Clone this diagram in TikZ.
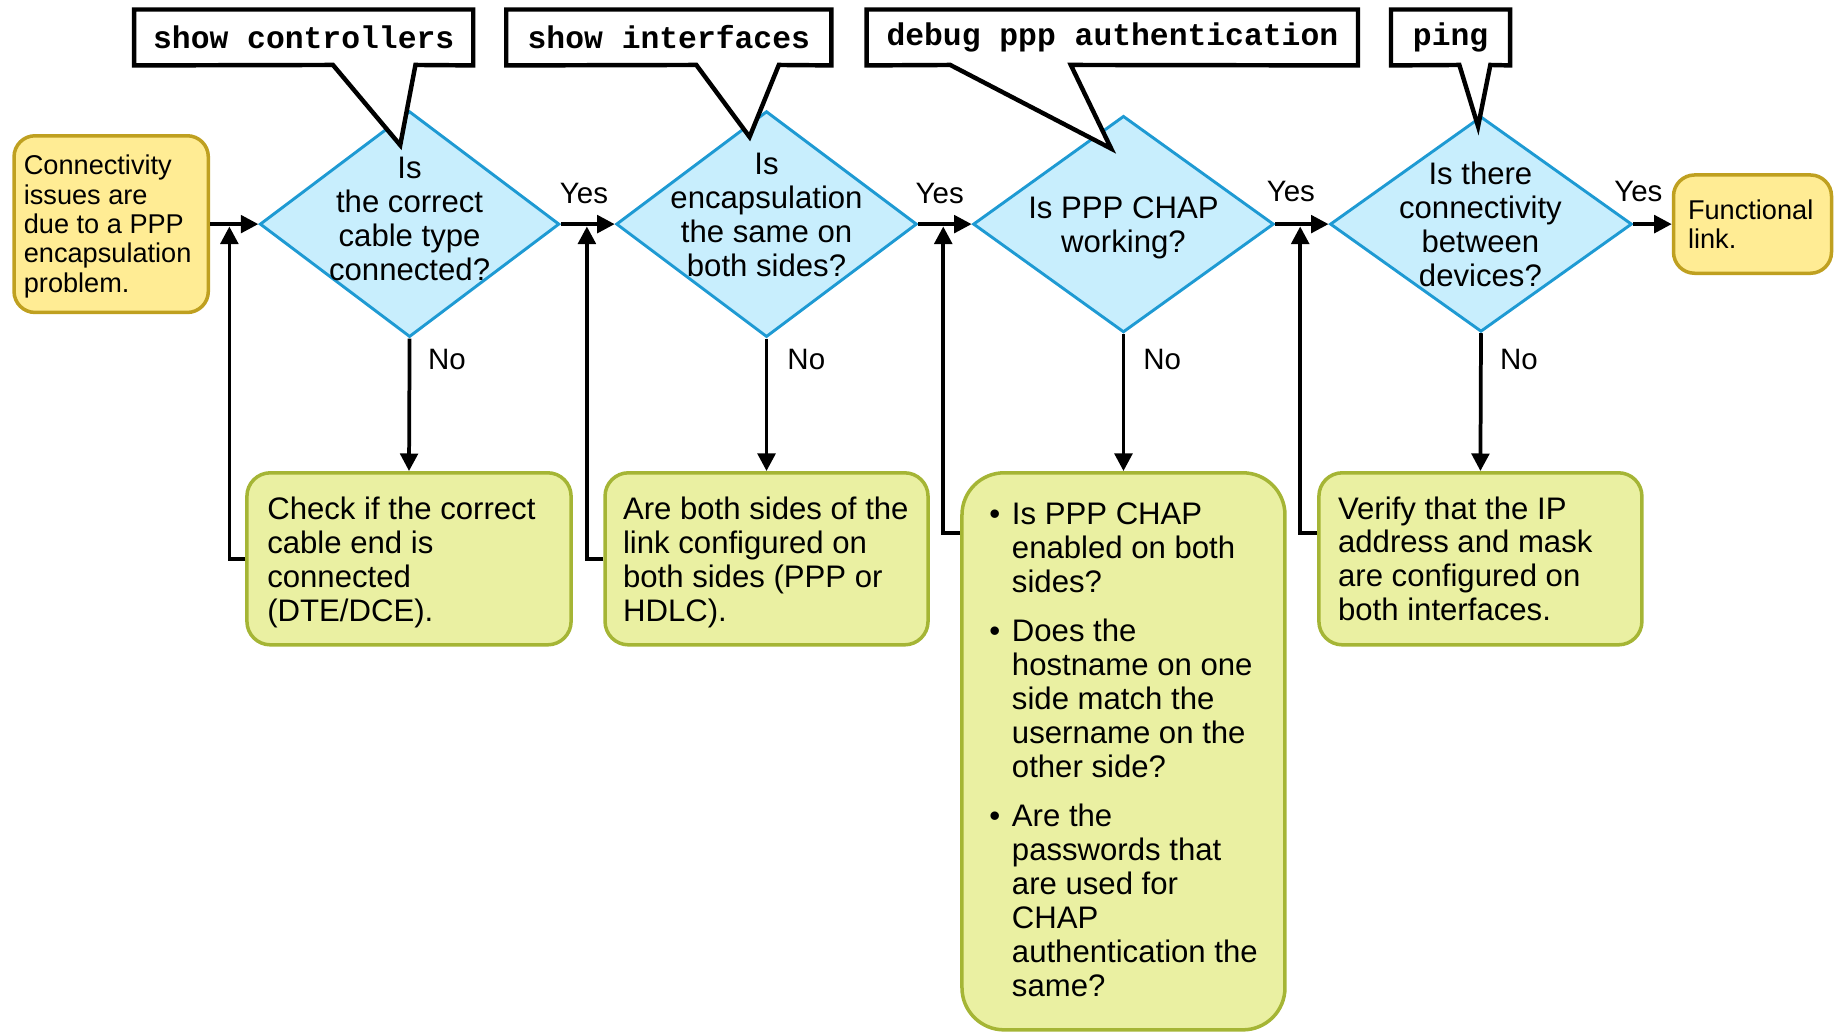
\documentclass[tikz,border=0pt]{standalone}
\usepackage{fontspec}
\setmainfont{Liberation Sans}
\setmonofont{Liberation Mono}
\usetikzlibrary{shapes.geometric,arrows.meta,calc}

\definecolor{qfill}{HTML}{C8EEFD}
\definecolor{qedge}{HTML}{1E9AD3}
\definecolor{tfill}{HTML}{FFEC94}
\definecolor{tedge}{HTML}{BFA020}
\definecolor{cfill}{HTML}{EAF0A2}
\definecolor{cedge}{HTML}{A5B535}

\newcommand\bigtxt{\fontsize{13.3}{14.5}\selectfont}
\newcommand\smalltxt{\fontsize{11.6}{12.55}\selectfont}
\newcommand\cmdtxt{\fontsize{13.4}{14}\selectfont\ttfamily\bfseries}
\newcommand\lbltxt{\fontsize{12.6}{14}\selectfont}

\begin{document}
\begin{tikzpicture}[x=0.5pt,y=-0.5pt,
  decision/.style={diamond,draw=qedge,fill=qfill,line width=1.25pt,inner sep=0pt},
  qtext/.style={align=center,inner sep=0pt,font=\bigtxt},
  terminal/.style={rectangle,rounded corners=9pt,draw=tedge,fill=tfill,line width=1.5pt,inner sep=0pt},
  action/.style={rectangle,rounded corners=10pt,draw=cedge,fill=cfill,line width=1.5pt,inner sep=0pt},
  btext/.style={align=left,anchor=west,inner sep=0pt,font=\bigtxt},
  stext/.style={align=left,anchor=west,inner sep=0pt,font=\smalltxt},
  cmd/.style={rectangle,inner sep=0pt,minimum height=23.5pt,font=\cmdtxt},
  cbox/.style={draw=black,fill=white,line width=1.9pt,line join=miter},
  arr/.style={line width=1.6pt,-{Triangle[length=7.5pt,width=7.5pt]}},
  lbl/.style={inner sep=0pt,font=\lbltxt}]

\useasboundingbox (0,0) rectangle (1568,884);

% decisions
\node[decision,minimum width=128pt,minimum height=96.5pt] (d1) at (350,191.5) {};
\node[decision,minimum width=128.5pt,minimum height=96.5pt] (d2) at (655,191.5) {};
\node[decision,minimum width=128.5pt,minimum height=92.5pt] (d3) at (960,191.5) {};
\node[decision,minimum width=129pt,minimum height=92pt] (d4) at (1265.5,191.5) {};

% start and end
\node[terminal,minimum width=83pt,minimum height=75.5pt] (s) at (95,191.5) {};
\node[stext] (st) at (20,193.5) {Connectivity\\issues are\\due to a PPP\\encapsulation\\problem.};
\node[terminal,minimum width=67.5pt,minimum height=42pt] (f) at (1497.5,191.5) {};
\node[stext] (ft) at (1442,191.5) {Functional\\link.};

% actions
\node[action,minimum width=138.5pt,minimum height=73.5pt] (b1) at (349.5,477.5) {};
\node[btext] (b1t) at (228,480.5) {Check if the correct\\cable end is\\connected\\(DTE/DCE).};
\node[action,minimum width=138pt,minimum height=73.5pt] (b2) at (655,477.5) {};
\node[btext] (b2t) at (532,480.5) {Are both sides of the\\link configured on\\both sides (PPP or\\HDLC).};
\node[action,rounded corners=18pt,minimum width=138pt,minimum height=238pt] (b3) at (960,642) {};
\node[btext] (b3t) at (845,644) {\begin{tabular}{@{}l@{\hspace{5pt}}l@{}}
\textbullet & Is PPP CHAP\\
 & enabled on both\\
 & sides?\\[6.5pt]
\textbullet & Does the\\
 & hostname on one\\
 & side match the\\
 & username on the\\
 & other side?\\[6.5pt]
\textbullet & Are the\\
 & passwords that\\
 & are used for\\
 & CHAP\\
 & authentication the\\
 & same?
\end{tabular}};
\node[action,minimum width=138pt,minimum height=73.5pt] (b4) at (1265,477.5) {};
\node[btext] (b4t) at (1143,477.5) {Verify that the IP\\address and mask\\are configured on\\both interfaces.};

% command callouts
\node[cmd,minimum width=144.5pt] (c1) at (259.5,32) {show controllers};
\node[cmd,minimum width=138.5pt] (c2) at (571.5,32) {show interfaces};
\node[cmd,minimum width=209.5pt] (c3) at (950.5,32) {debug ppp authentication};
\node[cmd,minimum width=50.5pt] (c4) at (1239.5,32) {ping};

\coordinate (c1a) at (284.5,55.5); \coordinate (c1b) at (355,55.5); \coordinate (c1t) at (342,124);
\coordinate (c2a) at (595,55.5);   \coordinate (c2b) at (665.5,55.5); \coordinate (c2t) at (640.5,117);
\coordinate (c3a) at (812,55.5);   \coordinate (c3b) at (915,55.5); \coordinate (c3t) at (949.5,127);
\coordinate (c4a) at (1247,55.5);  \coordinate (c4b) at (1273.5,55.5); \coordinate (c4t) at (1263,108);

\foreach \c in {c1,c2,c3,c4}{
  \draw[cbox] (\c.north west) -- (\c.north east) -- (\c.south east) -- (\c b)
    -- (\c t) -- (\c a) -- (\c.south west) -- cycle;
}
\node[cmd,minimum width=144.5pt] at (c1) {show controllers};
\node[cmd,minimum width=138.5pt] at (c2) {show interfaces};
\node[cmd,minimum width=209.5pt] at (c3) {debug ppp authentication};
\node[cmd,minimum width=50.5pt] at (c4) {ping};

% decision texts
\node[qtext] (t1) at (350,187) {Is\\the correct\\cable type\\connected?};
\node[qtext] (t2) at (655,184) {Is\\encapsulation\\the same on\\both sides?};
\node[qtext] (t3) at (960,194.5) {Is PPP CHAP\\working?};
\node[qtext] (t4) at (1265,192) {Is there\\connectivity\\between\\devices?};

% main flow
\draw[arr] (s.east) -- (d1.west);
\draw[arr] (d1.east) -- (d2.west);
\draw[arr] (d2.east) -- (d3.west);
\draw[arr] (d3.east) -- (d4.west);
\draw[arr] (d4.east) -- (f.west);

% no branches
\draw[arr] (d1.south) -- (b1.north);
\draw[arr] (d2.south) -- (b2.north);
\draw[arr] (d3.south) -- (b3.north);
\draw[arr] (d4.south) -- (b4.north);

% returns into the main flow
\coordinate (j1) at (196,193.5);
\coordinate (j2) at (501.5,193.5);
\coordinate (j3) at (806,193.5);
\coordinate (j4) at (1111,193.5);
\draw[arr] (b1.west) -| (j1);
\draw[arr] (b2.west) -| (j2);
\draw[arr] ($(b3.north west)+(0,53)$) -| (j3);
\draw[arr] ($(b4.north west)+(0,53)$) -| (j4);

% branch labels
\node[lbl] (y1) at (499,165) {Yes};
\node[lbl] (y2) at (803,165) {Yes};
\node[lbl] (y3) at (1103,164) {Yes};
\node[lbl] (y4) at (1400,164) {Yes};
\node[lbl] (n1) at (382,307) {No};
\node[lbl] (n2) at (689,307) {No};
\node[lbl] (n3) at (993,307) {No};
\node[lbl] (n4) at (1298,307) {No};
\end{tikzpicture}
\end{document}
